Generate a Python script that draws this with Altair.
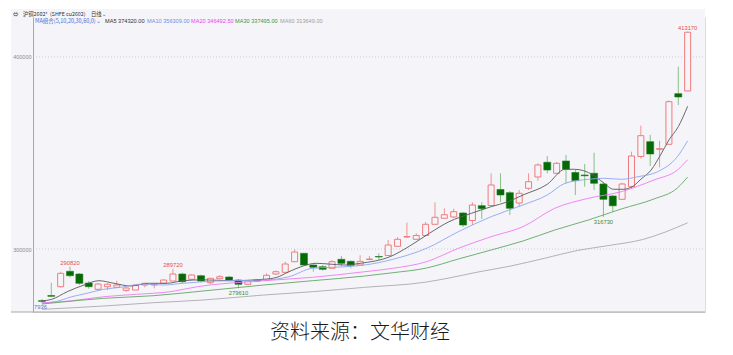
import altair as alt
import pandas as pd

# ---------------- data ----------------
idx = list(range(70))
opens = [273080, 275780, 280370, 288390, 286980, 282290, 279010, 280370, 280050, 278490,
         278650, 281250, 281250, 282140, 283330, 286980, 284220, 286090, 282450, 284530,
         285420, 283850, 281620, 283850, 283850, 286980, 287860, 293390, 297760, 291670,
         290780, 289950, 294640, 293590, 291670, 294530, 296090, 296610, 301410, 306250,
         305050, 307030, 312860, 315990, 316670, 318750, 314840, 322550, 322650, 330990,
         329320, 323960, 331610, 337500, 345150, 339420, 345830, 339840, 338540, 339420,
         333850, 327600, 325880, 332450, 348170, 355880, 351920, 354530, 380880, 382290]
highs = [273960, 282450, 288180, 290820, 287500, 283330, 282290, 282140, 283490, 280210,
         281250, 282450, 282140, 284220, 289720, 287660, 286820, 286560, 284940, 286460,
         285940, 284380, 283590, 284380, 287340, 288800, 293390, 299840, 297920, 291930,
         291670, 294270, 296350, 294010, 296720, 296350, 297760, 304690, 306250, 313800,
         308180, 314060, 324320, 321200, 320990, 319270, 324320, 324320, 339420, 339420,
         330210, 330730, 339420, 344630, 348430, 345310, 348960, 341140, 344270, 350150,
         334890, 328120, 334530, 350670, 364220, 359370, 356400, 377340, 394940, 413170]
lows = [271930, 275000, 279950, 285260, 281250, 279320, 278650, 278650, 279690, 277610,
        278650, 280050, 279530, 282140, 283330, 282140, 283850, 282550, 281770, 284530,
        283330, 279610, 281250, 282810, 283330, 286460, 287860, 293230, 291670, 288180,
        288700, 289950, 291150, 289950, 291670, 294270, 294270, 296610, 301410, 305730,
        305050, 307030, 312860, 315990, 316150, 311460, 312500, 315620, 322650, 324480,
        317710, 322030, 330730, 335570, 339420, 339420, 334110, 328120, 332450, 330730,
        316730, 319430, 325520, 331610, 347130, 343230, 342550, 354160, 375000, 382290]
closes = [272760, 275370, 287340, 286090, 282140, 280370, 281770, 281620, 281250, 279690,
          281090, 282140, 281620, 283850, 286980, 282970, 286460, 283330, 284740, 285570,
          283700, 281620, 283330, 283330, 286300, 288180, 292190, 298440, 291670, 290470,
          289430, 293390, 292550, 291510, 293590, 294790, 295830, 302080, 305050, 306510,
          307030, 312860, 316510, 317860, 319430, 312500, 322920, 320990, 333330, 328120,
          321200, 329010, 335050, 343750, 341140, 344630, 341510, 335570, 338120, 334220,
          325880, 322500, 333850, 348430, 359010, 349480, 352240, 376710, 379160, 412860]

# moving averages (candle position, value)
ma5_pos = [0, 1.05, 2.7, 4.5, 6.1, 7.7, 9.5, 11.4, 13.3, 15.1, 17.2, 20.1, 23.7, 25.1, 26.4,
           27.9, 29.3, 30.6, 32.4, 34, 37.2, 39.3, 41.4, 43.5, 45.9, 48, 49.8, 51.4, 54,
           55.9, 56.9, 58.9, 60, 61.1, 62.1, 63.2, 64, 65.1, 66.1, 67, 68, 69]
ma5_val = [272920, 273800, 277760, 281250, 283490, 282140, 280730, 282140, 282140, 283490,
           283960, 283490, 284220, 285260, 288180, 291150, 292550, 292190, 291670, 292550,
           295990, 301560, 308180, 314220, 318590, 322030, 324630, 328120, 333700, 341510,
           341510, 338540, 334530, 331090, 331090, 332810, 336300, 341140, 348960, 356770,
           363690, 374320]
ma10_pos = [0, 1.4, 3.2, 4.8, 6.6, 8.4, 10.8, 12.9, 15.1, 17.2, 20.1, 23.7, 26.4, 28.9, 32.4,
            34.5, 37.5, 41.1, 44.5, 48, 51.4, 54, 55.9, 58.4, 60.1, 61.9, 63.7, 65.8, 67.9, 69]
ma10_val = [271880, 272550, 275160, 276930, 279010, 280050, 281770, 281250, 282140, 282970,
            283490, 283850, 285570, 289950, 290780, 291670, 294640, 300360, 309010, 316820,
            322920, 328120, 334220, 336300, 336820, 336300, 337650, 340260, 348070, 356309]
ma20_pos = [0, 3.2, 6.6, 10.1, 13.7, 16.6, 23.7, 28.9, 34.5, 37.5, 41.1, 44.5, 48, 51.4,
            54.8, 58.4, 61.9, 65.4, 67.9, 69]
ma20_val = [271880, 273080, 275160, 276410, 277760, 280370, 283490, 285260, 288180, 289950,
            293390, 300360, 306410, 311610, 321200, 326400, 329840, 335940, 341140, 346492.5]
ma30_pos = [0, 1.4, 6.6, 11.9, 17.2, 23.7, 28.9, 34.5, 37.5, 41.1, 44.5, 48, 51.4, 54.8,
            58.4, 61.9, 65.4, 67.9, 69]
ma30_val = [271356, 272033, 274325, 275679, 278126, 281251, 283491, 285938, 287657, 290105,
            294792, 299479, 304166, 309895, 315103, 320832, 326040, 331769, 337495]
ma60_pos = [0, 6.6, 11.9, 17.2, 23.7, 28.9, 34.5, 41.1, 43.5, 46.6, 50.1, 53.7, 57.2, 60.6,
            64.2, 69]
ma60_val = [268596, 270314, 272033, 273439, 276043, 277762, 280053, 282814, 284897, 288022,
            291146, 295157, 299219, 301823, 304948, 313649]

ma_names = ["MA5", "MA10", "MA20", "MA30", "MA60"]
ma_colors = ["#5A5A5A", "#8FA6EE", "#F27AF2", "#62A862", "#ABABAB"]

tick_values = [300000, 400000]

label_pos = [3, 14, 21, 60, 69, 0]
label_price = [290820, 289720, 279610, 316730, 413170, 271930]
label_text = ["290820", "289720", "279610", "316730", "413170", "7936"]
label_side = ["high", "high", "low", "low", "high", "low"]

legend_texts = ["MA组合(5,10,20,30,60,0)⌄", "MA5 374320.00", "MA10 356309.00",
                "MA20 346492.50", "MA30 337495.00", "MA60 313649.00"]
legend_colors = ["#4A6FD0", "#333333", "#6F8FE6", "#EE3EEE", "#3E963E", "#A0A0A0"]
header_texts = ["⇔", "沪铜2602*", "(SHFE  cu2602)", "日线⌄"]
caption = "资料来源：文华财经"

# ---------------- styling ----------------
W, H = 672, 295
PANEL = "#F4F4F9"
RED = "#F07C7C"
RED_WICK = "#F29494"
GREEN = "#046A04"
GREEN_WICK = "#86C286"
SMALL_FONT = "Liberation Sans"
CJK = "Noto Sans CJK SC"

xs = alt.Scale(domain=[-0.42, 70.32], nice=False, zero=False)
ys = alt.Scale(domain=[267200, 420800], nice=False, zero=False)
yaxis = alt.Axis(values=tick_values, format="d", labelFontSize=5.5, labelFont=SMALL_FONT,
                 labelColor="#8A8A8A", domainColor="#A8A8A8", ticks=False, grid=False,
                 labelPadding=2, title=None, zindex=1)

X = lambda f: alt.X(f, type="quantitative", scale=xs, axis=None)
Y = lambda f: alt.Y(f, type="quantitative", scale=ys, axis=yaxis)

cdf = pd.DataFrame({"i": idx, "o": opens, "h": highs, "l": lows, "c": closes})
cdf["lo_b"] = cdf[["o", "c"]].min(axis=1)
cdf["hi_b"] = cdf[["o", "c"]].max(axis=1)
up = cdf[cdf.c >= cdf.o]
dn = cdf[cdf.c < cdf.o]

one = pd.DataFrame({"k": [0]})

panel = alt.Chart(one).mark_rect(fill=PANEL).encode(
    x=alt.value(-22), x2=alt.value(W), y=alt.value(-8), y2=alt.value(H))
bottom_line = alt.Chart(one).mark_rule(color="#A8A8A8", strokeWidth=1).encode(
    x=alt.value(-22), x2=alt.value(W), y=alt.value(H), y2=alt.value(H))

grid = alt.Chart(pd.DataFrame({"v": tick_values})).mark_rule(
    color="#CFCFD8", strokeDash=[1, 2], strokeWidth=1).encode(
    y=Y("v"), x=alt.value(0), x2=alt.value(W))

wick_up = alt.Chart(up).mark_rule(color=RED_WICK, strokeWidth=1).encode(
    x=X("i"), y=Y("l"), y2="h")
wick_dn = alt.Chart(dn).mark_rule(color=GREEN_WICK, strokeWidth=1).encode(
    x=X("i"), y=Y("l"), y2="h")
body_up = alt.Chart(up).mark_bar(size=6, fill=PANEL, stroke=RED, strokeWidth=1).encode(
    x=X("i"), y=Y("lo_b"), y2="hi_b")
body_dn = alt.Chart(dn).mark_bar(size=7, fill=GREEN, stroke="#1E7A1E", strokeWidth=0.6).encode(
    x=X("i"), y=Y("lo_b"), y2="hi_b")

ma_frames = []
for name, pos, val in zip(ma_names, [ma5_pos, ma10_pos, ma20_pos, ma30_pos, ma60_pos],
                          [ma5_val, ma10_val, ma20_val, ma30_val, ma60_val]):
    ma_frames.append(pd.DataFrame({"pos": pos, "val": val, "ma": name}))
madf = pd.concat(ma_frames, ignore_index=True)
ma_lines = alt.Chart(madf).mark_line(strokeWidth=0.9, interpolate="monotone").encode(
    x=X("pos"), y=Y("val"),
    color=alt.Color("ma:N", scale=alt.Scale(domain=ma_names, range=ma_colors), legend=None),
    detail="ma:N")

ldf = pd.DataFrame({"i": label_pos, "p": label_price, "t": label_text, "side": label_side})
ldf["col"] = ["#E84C4C", "#E84C4C", "#3C8C3C", "#3C8C3C", "#E84C4C", "#6E6EC8"]
hi_lab = alt.Chart(ldf[ldf.side == "high"]).mark_text(
    fontSize=5.8, font=SMALL_FONT, baseline="bottom", dy=-1).encode(
    x=X("i"), y=Y("p"), text="t:N", color=alt.Color("col:N", scale=None))
lo_lab_df = ldf[(ldf.side == "low") & (ldf.i > 0)]
lo_lab = alt.Chart(lo_lab_df).mark_text(
    fontSize=5.8, font=SMALL_FONT, baseline="top", dy=2).encode(
    x=X("i"), y=Y("p"), text="t:N", color=alt.Color("col:N", scale=None))
first_lab = alt.Chart(ldf[ldf.i == 0]).mark_text(
    fontSize=5.8, font=SMALL_FONT, baseline="top", align="left", dy=1).encode(
    x=alt.value(1), y=Y("p"), text="t:N", color=alt.Color("col:N", scale=None))

# legend row: first item in CJK font, value items in a narrow Latin font
leg_x = [2, 72, 114, 158, 202, 247]
legdf = pd.DataFrame({"t": legend_texts, "col": legend_colors, "px": leg_x})
legend_first = alt.Chart(legdf.iloc[:1]).mark_text(
    fontSize=5.5, font=CJK, align="left", baseline="middle").encode(
    x=alt.X("px:Q", scale=None), y=alt.value(4), text="t:N",
    color=alt.Color("col:N", scale=None))
legend_rest = alt.Chart(legdf.iloc[1:]).mark_text(
    fontSize=5.6, font=SMALL_FONT, align="left", baseline="middle").encode(
    x=alt.X("px:Q", scale=None), y=alt.value(4), text="t:N",
    color=alt.Color("col:N", scale=None))

hdf = pd.DataFrame({"t": header_texts, "px": [-20, -10, 17, 58]})
header = alt.Chart(hdf).mark_text(
    fontSize=5.3, font=CJK, align="left", baseline="middle", color="#333333").encode(
    x=alt.X("px:Q", scale=None), y=alt.value(-3), text="t:N")

cap = alt.Chart(pd.DataFrame({"t": [caption]})).mark_text(
    fontSize=20, font=CJK, align="center", baseline="middle", color="#1A1A1A",
    fontWeight=300).encode(
    x=alt.value(327), y=alt.value(316), text="t:N")

chart = alt.layer(
    panel, grid, bottom_line, wick_up, wick_dn, body_up, body_dn, ma_lines,
    hi_lab, lo_lab, first_lab, legend_first, legend_rest, header, cap
).properties(
    width=W, height=H,
    padding={"left": 25, "top": 9, "right": 20, "bottom": 35},
    autosize=alt.AutoSizeParams(type="none"),
).configure_view(stroke=None).configure(background="white")

chart.save("out.html", embed_options={"renderer": "svg", "actions": False})
